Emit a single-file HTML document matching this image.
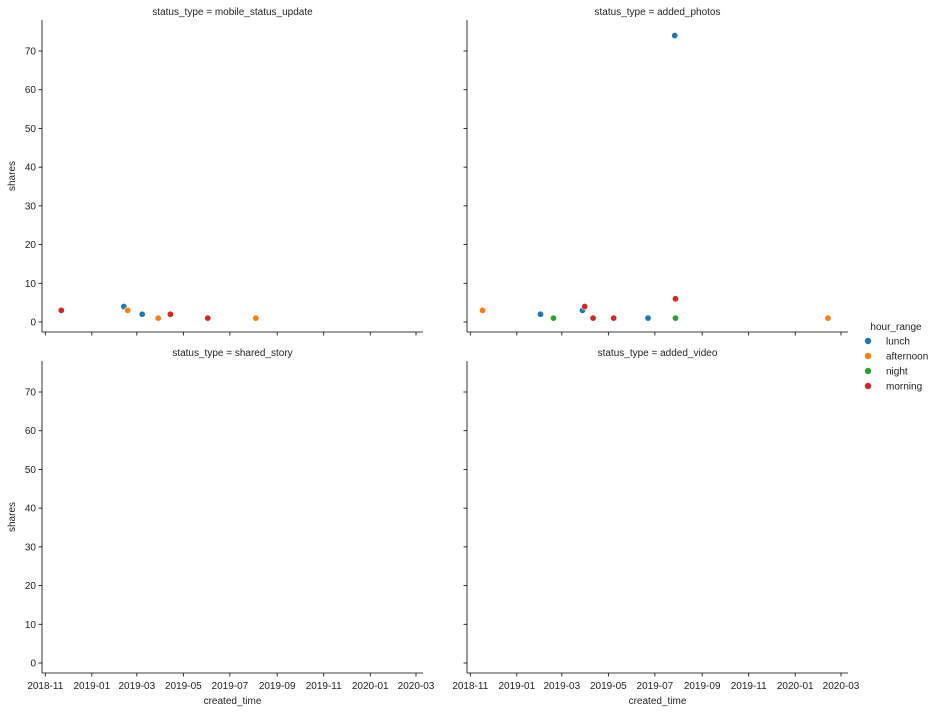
<!DOCTYPE html>
<html><head><meta charset="utf-8"><style>
body{margin:0;background:#fff;}
svg{display:block;font-family:"Liberation Sans","DejaVu Sans",sans-serif;}
</style></head><body>
<svg id="chart" width="942" height="712" xmlns="http://www.w3.org/2000/svg"></svg>
<script>
const panelTitles = ["mobile_status_update","added_photos","shared_story","added_video"];
const hourRanges = ["lunch","afternoon","night","morning"];
const colors = ["#1f77b4","#ff7f0e","#2ca02c","#d62728"];
const yTicks = [0,10,20,30,40,50,60,70];
const xTickLabels = ["2018-11","2019-01","2019-03","2019-05","2019-07","2019-09","2019-11","2020-01","2020-03"];
const mobileDates = ["2018-11-22","2019-02-12","2019-02-17","2019-03-08","2019-03-29","2019-04-14","2019-06-02","2019-08-04"];
const mobileShares = [3,4,3,2,1,2,1,1];
const mobileHours = ["morning","lunch","afternoon","lunch","afternoon","morning","morning","afternoon"];
const photoDates = ["2018-11-17","2019-02-01","2019-02-18","2019-03-28","2019-03-31","2019-04-11","2019-05-08","2019-06-22","2019-07-27","2019-07-28","2019-07-28","2020-02-13"];
const photoShares = [3,2,1,3,4,1,1,1,74,6,1,1];
const photoHours = ["afternoon","lunch","night","lunch","morning","morning","morning","lunch","lunch","morning","night","afternoon"];
const panelData = [[mobileDates,mobileShares,mobileHours],[photoDates,photoShares,photoHours],[[],[],[]],[[],[],[]]];

const NS="http://www.w3.org/2000/svg";
const svg=document.getElementById('chart');
function mk(tag,attrs,parent){const e=document.createElementNS(NS,tag);for(const k in attrs)e.setAttribute(k,attrs[k]);(parent||svg).appendChild(e);return e;}
const day=d=>Date.parse(d+"T00:00:00Z")/86400000;
const d0=day("2018-11-01"), pxPerDay=(416-45.3)/(day("2020-03-01")-d0);
const panels=[{l:42,t:20},{l:467,t:20},{l:42,t:361},{l:467,t:361}];
const W=381,H=312;
panels.forEach((p,i)=>{
  const g=mk('g',{});
  
  
  const xs=d=>p.l+3.3+(day(d)-d0)*pxPerDay;
  const ys=v=>p.t+302-v*(271/70);
  mk('line',{x1:p.l,y1:p.t,x2:p.l,y2:p.t+H,stroke:'#000','stroke-width':0.8},g);
  mk('line',{x1:p.l,y1:p.t+H,x2:p.l+W,y2:p.t+H,stroke:'#000','stroke-width':0.8},g);
  const tt=mk('text',{x:p.l+W/2,y:p.t-5,'text-anchor':'middle','font-size':10,fill:'#222'},g);
  tt.textContent='status_type = '+panelTitles[i];
  
  
  yTicks.forEach(v=>{
    const y=ys(v);
    mk('line',{x1:p.l-3.5,y1:y,x2:p.l,y2:y,stroke:'#000','stroke-width':0.8},g);
    if(i%2===0){const t=mk('text',{x:p.l-6,y:y+3.5,'text-anchor':'end','font-size':10,fill:'#222'},g);t.textContent=v;
      
      }
  });
  xTickLabels.forEach(lb=>{
    const x=xs(lb+"-01");
    mk('line',{x1:x,y1:p.t+H,x2:x,y2:p.t+H+3.5,stroke:'#000','stroke-width':0.8},g);
    if(i>=2){const t=mk('text',{x:x,y:p.t+H+16,'text-anchor':'middle','font-size':10,fill:'#222'},g);t.textContent=lb;
      
      }
  });
  if(i%2===0){const t=mk('text',{x:15,y:p.t+H/2,'text-anchor':'middle','font-size':10,fill:'#222',transform:`rotate(-90 15 ${p.t+H/2})`},g);t.textContent='shares';
    
    }
  if(i>=2){const t=mk('text',{x:p.l+W/2,y:704,'text-anchor':'middle','font-size':10,fill:'#222'},g);t.textContent='created_time';
    
    }
  const [ds,vs,hs]=panelData[i];
  ds.forEach((d,j)=>{
    const c=mk('circle',{cx:xs(d),cy:ys(vs[j]),r:3.2,fill:colors[hourRanges.indexOf(hs[j])],stroke:'#fff','stroke-width':0.6},g);
    
    
  });
});
const lg=mk('g',{});


const lt=mk('text',{x:896,y:330,'text-anchor':'middle','font-size':10,fill:'#222'},lg);lt.textContent='hour_range';
hourRanges.forEach((h,k)=>{
  const y=341+k*15;
  mk('circle',{cx:868,cy:y,r:3.2,fill:colors[k]},lg);
  const t=mk('text',{x:886,y:y+3.5,'font-size':10,fill:'#222'},lg);t.textContent=h;
  
  
});
</script>
</body></html>
